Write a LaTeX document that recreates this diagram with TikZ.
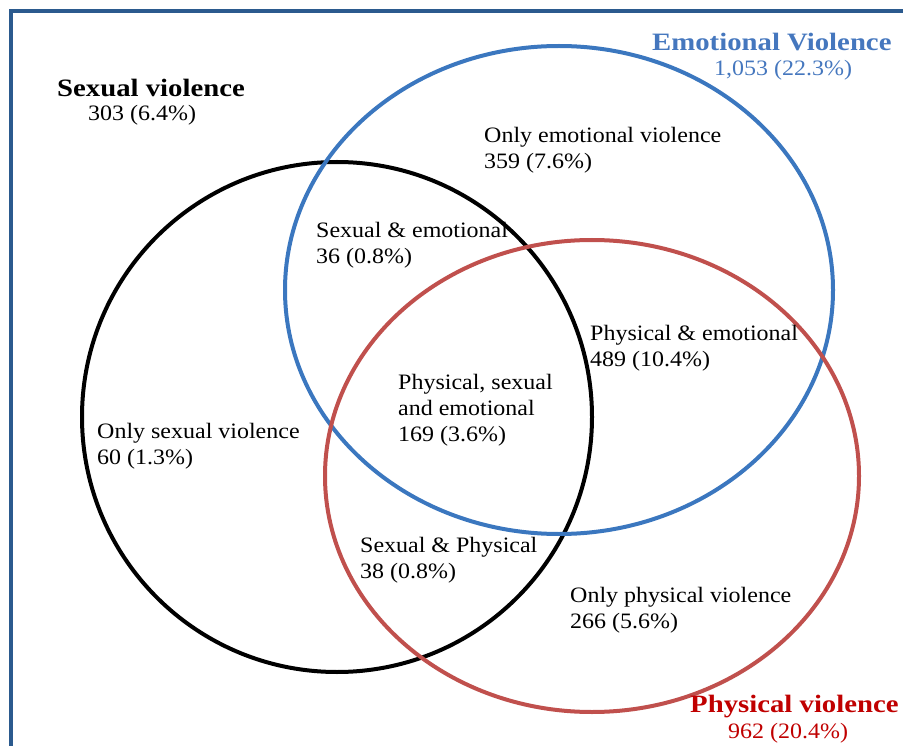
\documentclass[tikz,border=0pt]{standalone}
\usepackage{fontspec}
\setmainfont{Liberation Serif}[FakeStretch=1.09]
\newfontfamily\hdfont{Liberation Serif}[FakeStretch=1.15]
\usetikzlibrary{positioning}
\definecolor{frameblue}{HTML}{2B5A8E}
\definecolor{emoblue}{HTML}{3B77BF}
\definecolor{emotext}{HTML}{4577BE}
\definecolor{phyred}{HTML}{C0504D}
\definecolor{phytext}{HTML}{C00000}

\begin{document}
\begin{tikzpicture}[x=1pt,y=-1pt,font=\fontsize{22}{26}\selectfont,
  lbl/.style={align=left,anchor=west,inner sep=0pt},
  ttl/.style={font=\hdfont\bfseries\fontsize{25}{28}\selectfont,anchor=west,inner sep=0pt},
  ring/.style={line width=4pt}]
\useasboundingbox (0,0) rectangle (903,746);
\draw[frameblue,line width=4pt] (11,746) -- (11,11) -- (903,11);
% the three sets
\draw[ring,black] (337,417) circle[radius=255];
\draw[ring,emoblue] (559,290) ellipse[x radius=274,y radius=244];
\draw[ring,phyred] (592,476) ellipse[x radius=267,y radius=236];
% set titles
\node[ttl,emotext] (emo) at (652,42) {Emotional Violence};
\node[lbl,emotext] (emon) at (714,70) {1,053 (22.3\%)};
\node[ttl,black] (sex) at (57,88) {Sexual violence};
\node[lbl] (sexn) at (88,115) {303 (6.4\%)};
\node[ttl,phytext] (phy) at (690,707) {Physical violence};
\node[lbl,phytext] (phyn) at (728,733) {962 (20.4\%)};
% regions
\node[lbl] (oe) at (484,150) {Only emotional violence\\359 (7.6\%)};
\node[lbl] (se) at (316,245) {Sexual \& emotional\\36 (0.8\%)};
\node[lbl] (pe) at (590,348) {Physical \& emotional\\489 (10.4\%)};
\node[lbl] (all) at (398,410) {Physical, sexual\\and emotional\\169 (3.6\%)};
\node[lbl] (os) at (97,446) {Only sexual violence\\60 (1.3\%)};
\node[lbl] (sp) at (360,560) {Sexual \& Physical\\38 (0.8\%)};
\node[lbl] (op) at (570,610) {Only physical violence\\266 (5.6\%)};
\end{tikzpicture}
\end{document}
